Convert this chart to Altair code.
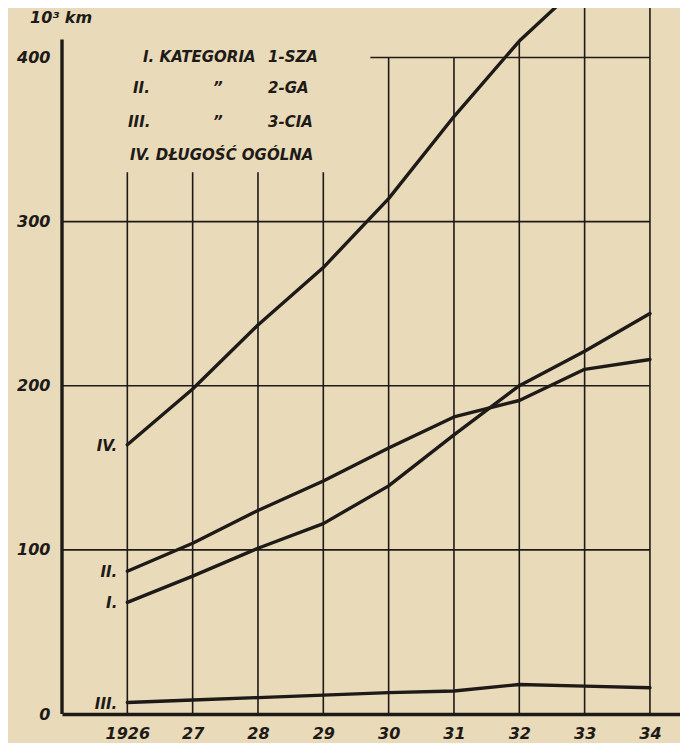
import altair as alt
import pandas as pd

# ---- data ----
years = [1926, 1927, 1928, 1929, 1930, 1931, 1932, 1933, 1934]
cat1 = [68, 84, 101, 116, 139, 170, 200, 221, 244]      # I. kategoria 1-sza
cat2 = [87, 104, 124, 142, 162, 181, 191, 210, 216]     # II. kategoria 2-ga
cat3 = [7, 8.5, 10, 11.5, 13, 14, 18, 17, 16]           # III. kategoria 3-cia
total = [164, 198, 237, 272, 314, 364, 410, 447, 476]   # IV. długość ogólna
series_names = ["I.", "II.", "III.", "IV."]

y_ticks = [0, 100, 200, 300, 400]
x_tick_labels = ["1926", "27", "28", "29", "30", "31", "32", "33", "34"]

grid_h_values = [100, 200, 300, 400]
grid_h_from = [1925.0, 1925.0, 1925.0, 1929.72]
grid_h_to = [1934, 1934, 1934, 1934]
grid_v_top = [330, 330, 330, 330, 400, 400, 410, 440, 440]
y_axis_top = 411

legend_col1 = ["I. KATEGORIA", "II.", "III.", "IV. DŁUGOŚĆ OGÓLNA"]
legend_col2 = ["", "\u201d", "\u201d", ""]
legend_col3 = ["1-SZA", "2-GA", "3-CIA", ""]
unit_label = "10\u00b3 km"

# ---- styling ----
INK = "#1d1a17"
PAPER = "#e9dab9"
FONT = "DejaVu Sans"

x_scale = alt.Scale(domain=[1925.0, 1934.46], nice=False, zero=False)
y_scale = alt.Scale(domain=[0, 435], nice=False, zero=True)

label_lookup = "{" + ",".join(f"'{y}':'{t}'" for y, t in zip(years, x_tick_labels)) + "}"
label_expr = f"{label_lookup}[toString(datum.value)]"

x_axis = alt.Axis(values=years, labelExpr=label_expr, grid=False, ticks=False,
                  domain=True, domainColor=INK, domainWidth=3.4, title="",
                  labelFont=FONT, labelFontSize=16, labelFontWeight="bold",
                  labelFontStyle="italic", labelColor=INK, labelPadding=11)
y_axis = alt.Axis(values=y_ticks, grid=False, ticks=False, domain=False, title="",
                  labelFont=FONT, labelFontSize=16, labelFontWeight="bold",
                  labelFontStyle="italic", labelColor=INK, labelPadding=12,
                  labelAlign="right")

rows = []
for name, vals in zip(series_names, [cat1, cat2, cat3, total]):
    for yr, v in zip(years, vals):
        rows.append({"year": yr, "value": v, "series": name})
lines_df = pd.DataFrame(rows)

label_df = pd.DataFrame({
    "year": [years[0]] * 4,
    "value": [cat1[0], cat2[0], cat3[0], total[0]],
    "series": series_names,
})

gh_df = pd.DataFrame({"value": grid_h_values, "x1": grid_h_from, "x2": grid_h_to})
gv_df = pd.DataFrame({"year": years, "lo": [0] * len(years), "hi": grid_v_top})
yaxis_df = pd.DataFrame({"lo": [0], "hi": [y_axis_top]})
dummy = pd.DataFrame({"a": [0]})


def X(field):
    return alt.X(field, scale=x_scale, axis=x_axis, title="")


def Y(field):
    return alt.Y(field, scale=y_scale, axis=y_axis, title="")


grid_h = alt.Chart(gh_df).mark_rule(color=INK, strokeWidth=1.6).encode(
    x=X("x1:Q"), x2="x2:Q", y=Y("value:Q"),
)

grid_v = alt.Chart(gv_df).mark_rule(color=INK, strokeWidth=1.6, clip=True).encode(
    x=X("year:Q"), y=Y("lo:Q"), y2="hi:Q",
)

y_axis_line = alt.Chart(yaxis_df).mark_rule(color=INK, strokeWidth=3.4).encode(
    x=alt.value(0), y=Y("lo:Q"), y2="hi:Q",
)

lines = alt.Chart(lines_df).mark_line(color=INK, strokeWidth=3.4, clip=True,
                                      strokeCap="round", strokeJoin="round").encode(
    x=X("year:Q"), y=Y("value:Q"), detail="series:N",
)

series_text = alt.Chart(label_df).mark_text(
    align="right", baseline="middle", dx=-10, dy=1, font=FONT, fontSize=15,
    fontWeight="bold", fontStyle="italic", color=INK,
).encode(
    x=X("year:Q"), y=Y("value:Q"), text="series:N",
)


def free_text(txt, px, py, size=15):
    return alt.Chart(dummy).mark_text(
        text=txt, align="left", baseline="middle", font=FONT, fontSize=size,
        fontWeight="bold", fontStyle="italic", color=INK,
    ).encode(x=alt.value(px), y=alt.value(py))


legend_layers = []
row_y = [57, 88, 122, 155]
col1_x = [81, 71, 66, 68]
for i in range(4):
    legend_layers.append(free_text(legend_col1[i], col1_x[i], row_y[i]))
    if legend_col2[i]:
        legend_layers.append(free_text(legend_col2[i], 151, row_y[i]))
    if legend_col3[i]:
        legend_layers.append(free_text(legend_col3[i], 206, row_y[i]))

unit = free_text(unit_label, -32, 18, size=16)

chart = alt.layer(grid_h, grid_v, y_axis_line, lines, series_text, unit, *legend_layers).properties(
    width=618,
    height=714,
    background=PAPER,
    padding={"left": 54, "top": -8, "right": 0, "bottom": 29},
    autosize=alt.AutoSizeParams(type="none"),
).configure_view(stroke=None)

chart.save("out.html", embed_options={"renderer": "svg", "actions": False})
